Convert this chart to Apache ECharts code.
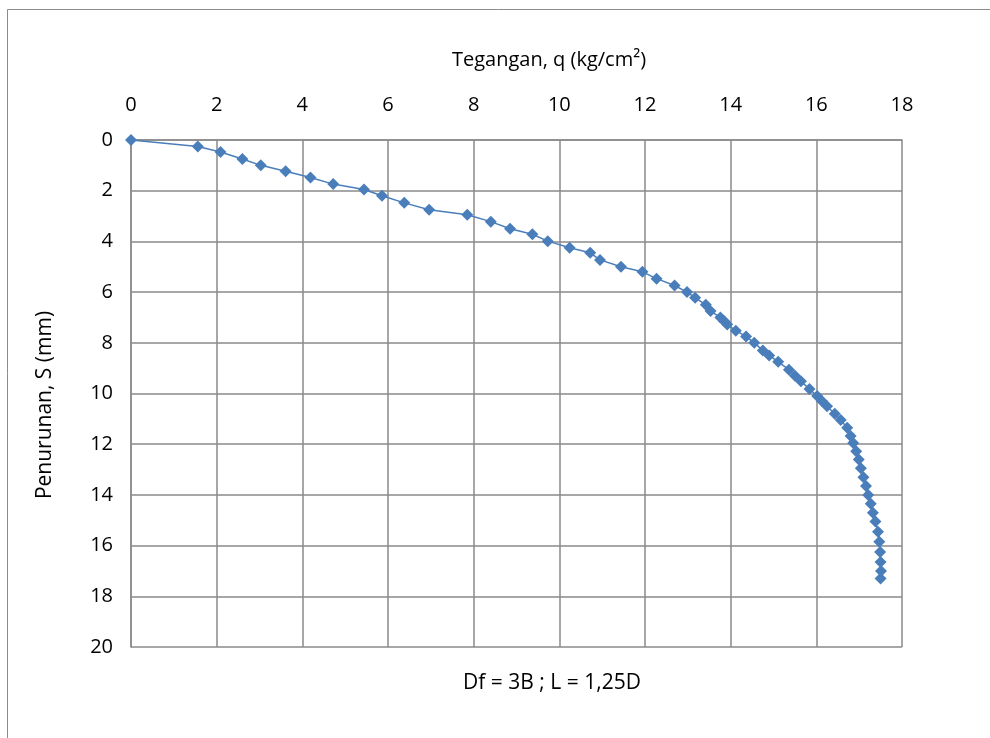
<!DOCTYPE html>
<html>
<head>
<meta charset="utf-8">
<script src="https://cdn.jsdelivr.net/npm/echarts@6/dist/echarts.min.js"></script>
<style>
html,body{margin:0;padding:0;background:#fff;}
#c{width:990px;height:738px;}
</style>
</head>
<body>
<div id="c"></div>
<script>
var xTitle = 'Tegangan, q (kg/cm²)';
var yTitle = 'Penurunan, S (mm)';
var note = 'Df = 3B ; L = 1,25D';
// Tegangan q (kg/cm²)
var qValues = [0, 1.56, 2.09, 2.6, 3.03, 3.61, 4.19, 4.72, 5.44, 5.86, 6.38, 6.96, 7.85, 8.4, 8.85, 9.37, 9.73, 10.24, 10.72, 10.95, 11.44, 11.94, 12.27, 12.69, 12.98, 13.17, 13.42, 13.53, 13.76, 13.85, 13.92, 14.12, 14.36, 14.55, 14.75, 14.9, 15.11, 15.36, 15.5, 15.64, 15.84, 16.02, 16.13, 16.25, 16.43, 16.57, 16.72, 16.8, 16.86, 16.93, 16.99, 17.04, 17.1, 17.16, 17.21, 17.27, 17.32, 17.38, 17.44, 17.47, 17.49, 17.5, 17.51, 17.5];
// Penurunan S (mm)
var sValues = [0, 0.26, 0.47, 0.75, 1.0, 1.23, 1.48, 1.74, 1.95, 2.2, 2.48, 2.75, 2.95, 3.22, 3.5, 3.72, 3.99, 4.25, 4.45, 4.73, 5.0, 5.2, 5.47, 5.74, 6.0, 6.22, 6.5, 6.75, 7.0, 7.15, 7.28, 7.52, 7.75, 8.0, 8.3, 8.5, 8.75, 9.06, 9.3, 9.52, 9.82, 10.1, 10.3, 10.5, 10.8, 11.05, 11.35, 11.68, 11.95, 12.28, 12.6, 12.95, 13.3, 13.65, 14.0, 14.35, 14.7, 15.05, 15.45, 15.85, 16.25, 16.65, 17.0, 17.3];

var data = qValues.map(function(q, i){ return [q, sValues[i]]; });
var font = '"Open Sans", "Noto Sans", sans-serif';
var gridColor = '#8a8a8a';
var chart = echarts.init(document.getElementById('c'));
chart.setOption({
  backgroundColor: '#fff',
  animation: false,
  grid: {left: 131, right: 88, top: 140, bottom: 91, containLabel: false},
  graphic: [
    {type: 'line', shape: {x1: 7.5, y1: 9.5, x2: 7.5, y2: 738}, style: {stroke: '#8c8c8c', lineWidth: 1}},
    {type: 'line', shape: {x1: 7.5, y1: 9.5, x2: 990, y2: 9.5}, style: {stroke: '#8c8c8c', lineWidth: 1}},
    {type: 'text', x: 549, y: 60, style: {text: xTitle, font: '20px ' + font, fill: '#000', textAlign: 'center', textVerticalAlign: 'middle'}},
    {type: 'text', x: 45, y: 405, rotation: Math.PI / 2, style: {text: yTitle, font: '21px ' + font, fill: '#000', textAlign: 'center', textVerticalAlign: 'middle'}},
    {type: 'text', x: 552, y: 683, style: {text: note, font: '21px ' + font, fill: '#000', textAlign: 'center', textVerticalAlign: 'middle'}}
  ],
  xAxis: {
    type: 'value', position: 'top', min: 0, max: 18, interval: 2,
    axisLine: {show: true, lineStyle: {color: gridColor, width: 1.5}},
    axisTick: {show: false},
    axisLabel: {margin: 25, fontFamily: font, fontSize: 20, color: '#000'},
    splitLine: {show: true, lineStyle: {color: gridColor, width: 1.5}}
  },
  yAxis: {
    type: 'value', inverse: true, min: 0, max: 20, interval: 2,
    axisLine: {show: true, lineStyle: {color: gridColor, width: 1.5}},
    axisTick: {show: false},
    axisLabel: {margin: 18, fontFamily: font, fontSize: 20, color: '#000'},
    splitLine: {show: true, lineStyle: {color: gridColor, width: 1.5}}
  },
  series: [{
    type: 'line', data: data,
    symbol: 'diamond', symbolSize: 12,
    itemStyle: {color: '#4a7ebb'},
    lineStyle: {color: '#4a7ebb', width: 1.5},
    clip: false
  }]
});
</script>
</body>
</html>
